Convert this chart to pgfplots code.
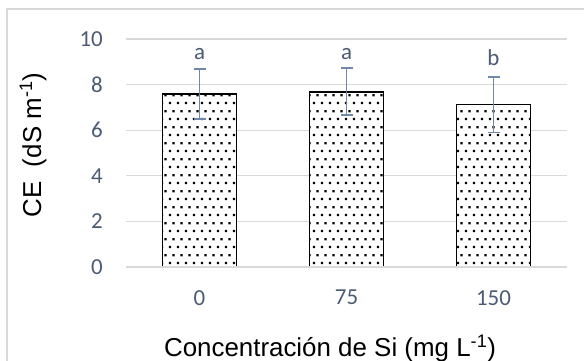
\documentclass[border=0pt]{standalone}
\usepackage{pgfplots}
\pgfplotsset{compat=1.18}
\usepackage{fontspec}
\setmainfont{Liberation Sans}
\newfontfamily\calibri{Carlito}
\usetikzlibrary{patterns}
\definecolor{tickc}{HTML}{4A5B73}
\definecolor{errc}{HTML}{6F87A8}
\definecolor{gridc}{HTML}{D9D9D9}
\pgfdeclarepatternformonly{mydots}{\pgfqpoint{0bp}{0bp}}{\pgfqpoint{8bp}{16bp}}{\pgfqpoint{8bp}{16bp}}{%
  \pgfpathrectangle{\pgfqpoint{1bp}{1bp}}{\pgfqpoint{2.4bp}{2.4bp}}%
  \pgfpathrectangle{\pgfqpoint{5bp}{9bp}}{\pgfqpoint{2.4bp}{2.4bp}}%
  \pgfusepath{fill}}
\begin{document}
\begin{tikzpicture}[x=1bp,y=1bp]
\draw[gridc, line width=1.2bp] (7,-20) -- (7,351) -- (620,351);
\begin{axis}[
  at={(126bp,93bp)}, anchor=south west,
  scale only axis, width=441bp, height=228bp,
  xmin=-0.5, xmax=2.5, ymin=0, ymax=10,
  xtick={0,1,2}, xticklabels={0,75,150},
  ytick={0,2,...,10},
  ymajorgrids, major grid style={gridc, line width=1.2bp},
  axis line style={draw=none},
  tick style={draw=none},
  /pgf/number format/assume math mode=true,
  tick label style={font=\fontsize{23}{27}\selectfont\calibri, text=tickc, inner sep=0pt},
  yticklabel style={xshift=-23bp},
  xticklabel style={yshift=-23bp},
  xlabel={Concentración de Si (mg L\textsuperscript{-1})},
  ylabel={CE\ \ (dS m\textsuperscript{-1})},
  every axis x label/.style={at={(axis description cs:0.4626,0)}, anchor=base, yshift=-89bp, font=\fontsize{26}{30}\selectfont},
  every axis y label/.style={at={(axis description cs:-0.211,0.535)}, anchor=center, rotate=90, font=\fontsize{26}{30}\selectfont},
  clip=false,
]
\addplot[ybar, bar width=74bp, draw=black, line width=1.6bp, fill=white,
  postaction={pattern=mydots},
  error bars/.cd, y dir=both, y explicit,
  error bar style={errc, line width=1.9bp},
  error mark options={errc, line width=1.9bp, mark size=6bp, rotate=90}]
  coordinates {(0,7.59) +- (0,1.08) (1,7.68) +- (0,1.03) (2,7.12) +- (0,1.22)};
\draw[gridc, line width=1.2bp] (axis cs:-0.5,0) -- (axis cs:2.5,0);
\node[anchor=base, font=\fontsize{23}{27}\selectfont\calibri, text=tickc] at (axis cs:0,9.08) {a};
\node[anchor=base, font=\fontsize{23}{27}\selectfont\calibri, text=tickc] at (axis cs:1,9.11) {a};
\node[anchor=base, font=\fontsize{23}{27}\selectfont\calibri, text=tickc] at (axis cs:2,8.83) {b};
\end{axis}
\pgfresetboundingbox
\useasboundingbox (0,0) rectangle (584,360);
\end{tikzpicture}
\end{document}
